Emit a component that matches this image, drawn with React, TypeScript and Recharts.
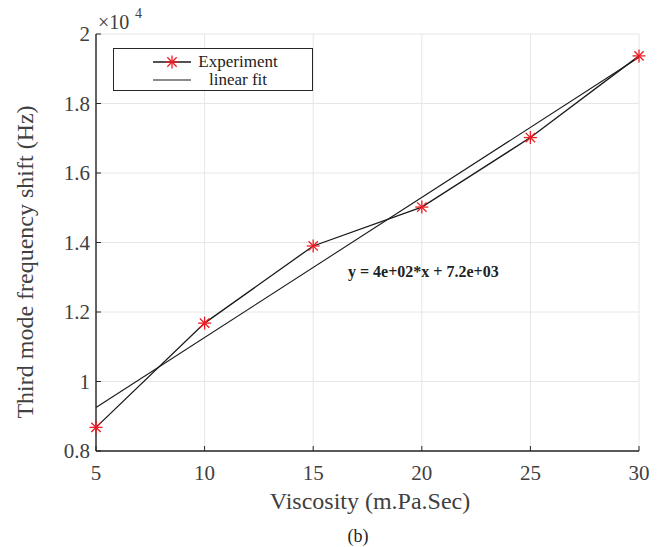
import {
  CartesianGrid,
  Legend,
  Line,
  LineChart,
  XAxis,
  YAxis
} from "recharts";

// viscosity (m.Pa.Sec)
const viscosity = [5, 10, 15, 20, 25, 30];
// measured third mode frequency shift (Hz)
const frequencyShift = [8680, 11680, 13900, 15020, 17020, 19370];
// linear fit read at the ends of the range
const fitX = [5, 30];
const fitY = [9250, 19330];

const xTicks = [5, 10, 15, 20, 25, 30];
const yTicks = [8000, 10000, 12000, 14000, 16000, 18000, 20000];
const yTickLabels = ["0.8", "1", "1.2", "1.4", "1.6", "1.8", "2"];

const seriesNames = ["Experiment", "linear fit"];

const expData = viscosity.map((x, i) => ({ x, y: frequencyShift[i] }));
const fitData = fitX.map((x, i) => ({ x, y: fitY[i] }));

const SERIF = "'Liberation Serif', 'Times New Roman', serif";
const AXIS = "#262626";
const TEXT = "#404040";
const RED = "#ec1c24";

function Star({ cx, cy, r = 6.5 }: { cx?: number; cy?: number; r?: number }) {
  if (cx == null || cy == null) return null;
  const d = r * 0.72;
  return (
    <g stroke={RED} strokeWidth={1.3}>
      <line x1={cx - r} y1={cy} x2={cx + r} y2={cy} />
      <line x1={cx} y1={cy - r} x2={cx} y2={cy + r} />
      <line x1={cx - d} y1={cy - d} x2={cx + d} y2={cy + d} />
      <line x1={cx - d} y1={cy + d} x2={cx + d} y2={cy - d} />
    </g>
  );
}

function LegendBox() {
  return (
    <div
      style={{
        width: 200,
        height: 43,
        boxSizing: "border-box",
        border: `1.3px solid ${AXIS}`,
        background: "#fff",
        position: "relative"
      }}
    >
      <svg width={200} height={43} style={{ position: "absolute", left: 0, top: 0 }}>
        <line x1={39} y1={13} x2={77} y2={13} stroke="#1a1a1a" strokeWidth={1.3} />
        <Star cx={58} cy={13} />
        <line x1={39} y1={31} x2={77} y2={31} stroke="#1a1a1a" strokeWidth={1.1} />
        <text x={124} y={18} textAnchor="middle" fontFamily={SERIF} fontSize={17} fill="#222">
          {seriesNames[0]}
        </text>
        <text x={124} y={36} textAnchor="middle" fontFamily={SERIF} fontSize={17} fill="#222">
          {seriesNames[1]}
        </text>
      </svg>
    </div>
  );
}

export default function App() {
  const tickStyle = { fill: TEXT, fontSize: 21, fontFamily: SERIF };
  const axisLine = { stroke: AXIS, strokeWidth: 1.4 };
  const tickLine = { stroke: AXIS, strokeWidth: 1 };

  return (
    <div style={{ position: "absolute", left: 0, top: 0, width: 666, height: 547, background: "#fff" }}>
      <LineChart width={666} height={547} margin={{ top: 34, right: 27, left: 0, bottom: 0 }}>
        <CartesianGrid stroke="#e6e6e6" strokeWidth={1} />
        <XAxis
          dataKey="x"
          type="number"
          domain={[5, 30]}
          ticks={xTicks}
          height={96}
          tickSize={-5}
          tickMargin={19}
          tickLine={tickLine}
          axisLine={axisLine}
          tick={tickStyle}
          allowDuplicatedCategory={false}
        />
        <XAxis
          xAxisId="top"
          orientation="top"
          dataKey="x"
          type="number"
          domain={[5, 30]}
          ticks={xTicks}
          height={0}
          tick={false}
          tickSize={-5}
          tickLine={tickLine}
          axisLine={axisLine}
          allowDuplicatedCategory={false}
        />
        <YAxis
          type="number"
          domain={[8000, 20000]}
          ticks={yTicks}
          width={96}
          tickSize={-5}
          tickMargin={11}
          tickLine={tickLine}
          axisLine={axisLine}
          tick={tickStyle}
          tickFormatter={(v: number) => yTickLabels[yTicks.indexOf(v)] ?? ""}
        />
        <YAxis
          yAxisId="right"
          orientation="right"
          type="number"
          domain={[8000, 20000]}
          ticks={yTicks}
          width={0}
          tick={false}
          tickSize={-5}
          tickLine={tickLine}
          axisLine={axisLine}
        />
        <Legend
          layout="vertical"
          align="center"
          verticalAlign="middle"
          content={() => <LegendBox />}
          wrapperStyle={{ position: "absolute", left: 113, top: 48, width: 200, height: 43 }}
        />
        <Line
          data={fitData}
          dataKey="y"
          xAxisId="top"
          yAxisId="right"
          name={seriesNames[1]}
          stroke="#1a1a1a"
          strokeWidth={1.1}
          dot={false}
          activeDot={false}
          isAnimationActive={false}
        />
        <Line
          data={expData}
          dataKey="y"
          name={seriesNames[0]}
          stroke="#1a1a1a"
          strokeWidth={1.3}
          dot={(p: any) => <Star key={`star-${p.index}`} cx={p.cx} cy={p.cy} />}
          activeDot={false}
          isAnimationActive={false}
        />
      </LineChart>

      <svg
        width={666}
        height={547}
        style={{ position: "absolute", left: 0, top: 0, pointerEvents: "none" }}
      >
        <text x={98} y={29} fontFamily={SERIF} fontSize={20} fill={TEXT}>
          ×10
        </text>
        <text x={135} y={18} fontFamily={SERIF} fontSize={14} fill={TEXT}>
          4
        </text>
        <text
          x={0}
          y={0}
          transform="translate(33, 262) rotate(-90)"
          textAnchor="middle"
          fontFamily={SERIF}
          fontSize={24}
          fill={TEXT}
        >
          Third mode frequency shift (Hz)
        </text>
        <text x={370} y={509} textAnchor="middle" fontFamily={SERIF} fontSize={24} fill={TEXT}>
          Viscosity (m.Pa.Sec)
        </text>
        <text x={358} y={542} textAnchor="middle" fontFamily={SERIF} fontSize={18} fill="#222">
          (b)
        </text>
        <text x={348} y={277} fontFamily={SERIF} fontSize={16} fontWeight="bold" fill="#222">
          y = 4e+02*x + 7.2e+03
        </text>
      </svg>
    </div>
  );
}
